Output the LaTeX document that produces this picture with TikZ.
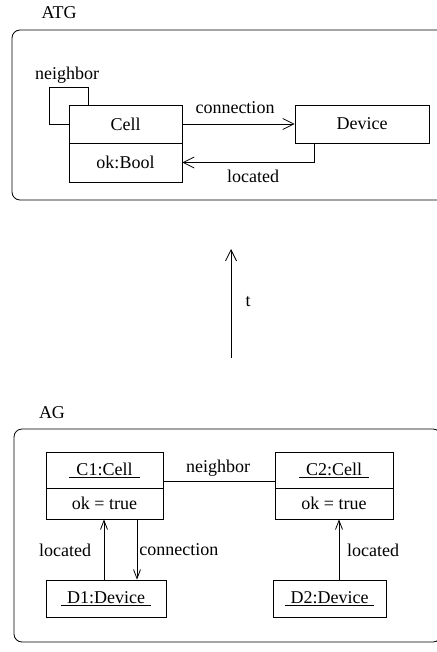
\documentclass[tikz,border=0pt]{standalone}
\usepackage{fontspec}
\setmainfont{Liberation Serif}
\usetikzlibrary{arrows.meta}
\begin{document}
\begin{tikzpicture}[x=1pt,y=-1pt,
  font=\fontsize{18pt}{21pt}\selectfont,
  every path/.style={line width=0.8pt},
  box/.style={draw, inner sep=0pt, line width=0.8pt},
  frame/.style={draw, rounded corners=8pt, line width=0.8pt},
  lbl/.style={inner sep=0pt},
  open/.style={-{Straight Barb[length=11pt,width=11pt,line width=0.8pt]}},
  opensm/.style={-{Straight Barb[length=9pt,width=7pt,line width=0.8pt]}}]
\useasboundingbox (0,0) rectangle (436,652);
% ---------- ATG ----------
\node[lbl] (atglbl) at (59,13) {ATG};
\draw[frame] (12,30) rectangle (447,200);
\node[box, minimum width=113pt, minimum height=38pt] (cell) at (125.5,124) {Cell};
\node[box, minimum width=113pt, minimum height=39pt] (cellattr) at (125.5,162.5) {ok:Bool};
\node[box, minimum width=134pt, minimum height=38pt] (device) at (362,124) {Device};
\coordinate (nl) at (88,87);
\draw (cell.west) -| ++(-19,-37) -| (cell.north -| nl);
\node[lbl] (neighborlbl) at (67,75) {neighbor};
\draw[open] (cell.east) -- (device.west);
\node[lbl] (connlbl) at (235,108) {connection};
\coordinate (lc) at (314,162.5);
\draw[open] (device.south -| lc) |- (cellattr.east);
\node[lbl] (loclbl) at (253,176) {located};
% ---------- t ----------
\coordinate (tbot) at (231,358);
\coordinate (ttop) at (231,249);
\draw[open] (tbot) -- (ttop);
\node[lbl] (tlbl) at (248,302) {t};
% ---------- AG ----------
\node[lbl] (aglbl) at (52,413) {AG};
\draw[frame] (14,429) rectangle (441,642);
\node[box, minimum width=117pt, minimum height=36pt] (c1) at (104.5,470) {\underline{\hspace{7pt}C1:Cell\hspace{7pt}}};
\node[box, minimum width=117pt, minimum height=31pt] (c1attr) at (104.5,503.5) {ok = true};
\node[box, minimum width=118pt, minimum height=36pt] (c2) at (334,470) {\underline{\hspace{7pt}C2:Cell\hspace{7pt}}};
\node[box, minimum width=118pt, minimum height=31pt] (c2attr) at (334,503.5) {ok = true};
\node[box, minimum width=120pt, minimum height=37pt] (d1) at (106,598.5) {\underline{\hspace{6pt}D1:Device\hspace{6pt}}};
\node[box, minimum width=113pt, minimum height=37pt] (d2) at (329.5,598.5) {\underline{\hspace{6pt}D2:Device\hspace{6pt}}};
\draw ([yshift=-11pt]c1.east) -- ([yshift=-11pt]c2.west);
\node[lbl] (nblbl) at (218,468) {neighbor};
\coordinate (x1) at (104,0);
\coordinate (x2) at (137,0);
\coordinate (x3) at (339,0);
\draw[opensm] (d1.north -| x1) -- (c1attr.south -| x1);
\draw[opensm] (c1attr.south -| x2) -- (d1.north -| x2);
\draw[opensm] (d2.north -| x3) -- (c2attr.south -| x3);
\node[lbl] (loc1) at (65,550) {located};
\node[lbl, anchor=west] (conn1) at (139,550) {connection};
\node[lbl] (loc2) at (373,550) {located};
\end{tikzpicture}
\end{document}
